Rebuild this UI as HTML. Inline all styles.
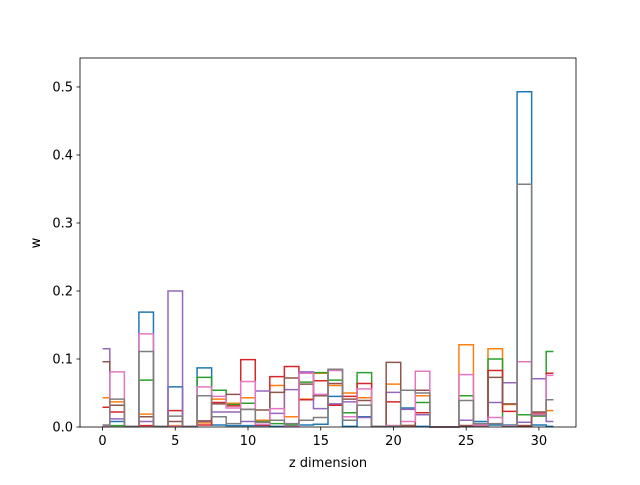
<!DOCTYPE html>
<html><head><meta charset="utf-8"><style>
body{margin:0;background:#fff}
text{font-family:"DejaVu Sans","Liberation Sans",sans-serif;font-size:13px;fill:#000}
</style></head><body>
<svg id="chart" width="640" height="480" xmlns="http://www.w3.org/2000/svg">
<rect width="640" height="480" fill="#fff"/>
<g id="lines"></g>
<g id="axes"></g>
<text x="328" y="467" text-anchor="middle">z dimension</text>
<text x="40" y="243" text-anchor="middle" transform="rotate(-90 40 243)">w</text>
</svg>
<script>
const zIndex = [0,1,2,3,4,5,6,7,8,9,10,11,12,13,14,15,16,17,18,19,20,21,22,23,24,25,26,27,28,29,30,31];
const seriesBlue   = [0.001,0.008,0.001,0.169,0.001,0.059,0.001,0.087,0.003,0.002,0.002,0.002,0.001,0.001,0.003,0.004,0.045,0.001,0.015,0.001,0.001,0.028,0.001,0,0,0.001,0.008,0.003,0.003,0.493,0.003,0.001];
const seriesOrange = [0.043,0.037,0.001,0.019,0.001,0.002,0.001,0.006,0.041,0.035,0.043,0.010,0.061,0.015,0.041,0.079,0.061,0.050,0.043,0.001,0.063,0.002,0.046,0,0,0.121,0.003,0.115,0.033,0.002,0.018,0.024];
const seriesGreen  = [0.001,0.002,0.001,0.069,0.001,0.001,0.001,0.073,0.054,0.033,0.035,0.008,0.005,0.003,0.066,0.080,0.069,0.021,0.080,0.001,0.002,0.002,0.036,0,0,0.046,0.003,0.100,0.002,0.018,0.016,0.111];
const seriesRed    = [0.029,0.022,0.001,0.002,0.001,0.024,0.001,0.003,0.036,0.031,0.099,0.003,0.074,0.089,0.040,0.068,0.032,0.045,0.064,0.001,0.037,0.002,0.021,0,0,0.002,0.002,0.083,0.023,0.001,0.020,0.079];
const seriesPurple = [0.115,0.012,0.001,0.008,0.001,0.200,0.001,0.008,0.022,0.022,0.008,0.053,0.020,0.055,0.081,0.027,0.034,0.037,0.014,0.001,0.051,0.026,0.018,0,0,0.010,0.002,0.036,0.065,0.007,0.071,0.008];
const seriesBrown  = [0.096,0.032,0.001,0.015,0.001,0.008,0.001,0.009,0.034,0.048,0.026,0.025,0.051,0.072,0.063,0.046,0.064,0.041,0.039,0.001,0.095,0.002,0.054,0,0,0.002,0.002,0.073,0.034,0.002,0.022,0.040];
const seriesPink   = [0.001,0.081,0.001,0.137,0.001,0.001,0.001,0.059,0.045,0.028,0.067,0.004,0.027,0.001,0.079,0.048,0.083,0.015,0.056,0.001,0.002,0.008,0.082,0,0,0.077,0.003,0.014,0.002,0.096,0.019,0.076];
const seriesGray   = [0.003,0.041,0.001,0.111,0.001,0.016,0.001,0.046,0.015,0.005,0.026,0.007,0.010,0.005,0.010,0.014,0.085,0.010,0.032,0.001,0.001,0.054,0.050,0,0,0.039,0.005,0.005,0.001,0.357,0.017,0.040];
const allSeries = [seriesBlue,seriesOrange,seriesGreen,seriesRed,seriesPurple,seriesBrown,seriesPink,seriesGray];
const colors = ['#1f77b4','#ff7f0e','#2ca02c','#d62728','#9467bd','#8c564b','#e377c2','#7f7f7f'];
const xTicks = [0,5,10,15,20,25,30];
const yTicks = [0,0.1,0.2,0.3,0.4,0.5];

const L=80,R=576,T=58,B=427, XMIN=-1.55, XMAX=32.55, YMIN=0, YMAX=0.5426;
const xs = v => L+(v-XMIN)/(XMAX-XMIN)*(R-L);
const ys = v => B-(v-YMIN)/(YMAX-YMIN)*(B-T);
const NS='http://www.w3.org/2000/svg';
const lines=document.getElementById('lines'), axes=document.getElementById('axes');

allSeries.forEach((s,k)=>{
  let d='';
  for(let i=0;i<zIndex.length;i++){
    const x0 = i===0 ? zIndex[0] : (zIndex[i-1]+zIndex[i])/2;
    const x1 = i===zIndex.length-1 ? zIndex[i] : (zIndex[i]+zIndex[i+1])/2;
    d += (i===0?'M':'L')+xs(x0).toFixed(2)+','+ys(s[i]).toFixed(2)+'L'+xs(x1).toFixed(2)+','+ys(s[i]).toFixed(2);
  }
  const p=document.createElementNS(NS,'path');
  p.setAttribute('d',d);p.setAttribute('fill','none');p.setAttribute('stroke',colors[k]);p.setAttribute('stroke-width','1.5');
  
  
  lines.appendChild(p);
});

const frame=document.createElementNS(NS,'rect');
frame.setAttribute('x',L);frame.setAttribute('y',T);frame.setAttribute('width',R-L);frame.setAttribute('height',B-T);
frame.setAttribute('fill','none');frame.setAttribute('stroke','#000');frame.setAttribute('stroke-width','0.8');


axes.appendChild(frame);

xTicks.forEach(t=>{
  const x=xs(t);
  const l=document.createElementNS(NS,'line');
  l.setAttribute('x1',x);l.setAttribute('x2',x);l.setAttribute('y1',B);l.setAttribute('y2',B+3.5);l.setAttribute('stroke','#000');l.setAttribute('stroke-width','0.8');
  
  
  axes.appendChild(l);
  const tx=document.createElementNS(NS,'text');
  tx.setAttribute('x',x);tx.setAttribute('y',B+18);tx.setAttribute('text-anchor','middle');tx.textContent=t;
  
  
  axes.appendChild(tx);
});
yTicks.forEach(t=>{
  const y=ys(t);
  const l=document.createElementNS(NS,'line');
  l.setAttribute('x1',L-3.5);l.setAttribute('x2',L);l.setAttribute('y1',y);l.setAttribute('y2',y);l.setAttribute('stroke','#000');l.setAttribute('stroke-width','0.8');
  
  
  axes.appendChild(l);
  const tx=document.createElementNS(NS,'text');
  tx.setAttribute('x',L-7);tx.setAttribute('y',y+4.5);tx.setAttribute('text-anchor','end');tx.textContent=t.toFixed(1);
  
  
  axes.appendChild(tx);
});
</script>
</body></html>
